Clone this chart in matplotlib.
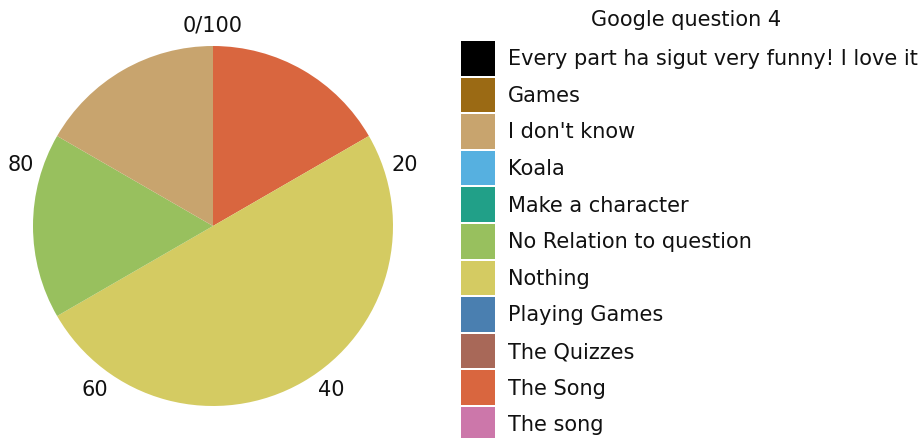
import matplotlib
matplotlib.use("Agg")
import matplotlib.pyplot as plt
from matplotlib.patches import Rectangle
import numpy as np

# Response categories (legend order) and their colours
categories = ["Every part ha sigut very funny! I love it", "Games", "I don't know",
              "Koala", "Make a character", "No Relation to question", "Nothing",
              "Playing Games", "The Quizzes", "The Song", "The song"]
colors = ["#000000", "#9b6a14", "#c8a46e", "#56b0e0", "#21a088", "#98c05e",
          "#d4cb62", "#4a7fb0", "#a86858", "#d9663f", "#cc77aa"]
# Counts of answers per category
counts = [0, 0, 1, 0, 0, 1, 3, 0, 0, 1, 0]

# Order in which slices appear clockwise from 12 o'clock
slice_order = ["The Song", "Nothing", "No Relation to question", "I don't know"]

# Percentage ticks around the rim
tick_values = [0, 20, 40, 60, 80]
tick_labels = ["0/100", "20", "40", "60", "80"]

W, H = 919, 439
DPI = 100
plt.rcParams["font.family"] = ["DejaVu Sans"]
fig = plt.figure(figsize=(W / DPI, H / DPI), dpi=DPI)

# Pie axes: centre (213, 227) px, radius 180 px
cx, cy, r = 213, 227, 180
ax = fig.add_axes([(cx - r) / W, (H - cy - r) / H, 2 * r / W, 2 * r / H])
vals = [counts[categories.index(c)] for c in slice_order]
cols = [colors[categories.index(c)] for c in slice_order]
ax.pie(vals, colors=cols, startangle=90, counterclock=False, radius=1.0,
       wedgeprops=dict(linewidth=0))
ax.set_xlim(-1, 1)
ax.set_ylim(-1, 1)
ax.set_aspect("equal")
ax.axis("off")

rl = 1.12
for v, lab in zip(tick_values, tick_labels):
    ang = np.deg2rad(90 - v / 100 * 360)
    ax.text(rl * np.cos(ang), rl * np.sin(ang), lab, ha="center", va="center",
            fontsize=15, color="#111111", clip_on=False)

# Legend drawn in figure pixel coordinates
lg = fig.add_axes([0, 0, 1, 1])
lg.set_xlim(0, W)
lg.set_ylim(H, 0)
lg.axis("off")
lg.text(686, 20, "Google question 4", ha="center", va="center",
        fontsize=15, color="#111111")
top0, pitch, sh = 42, 36.6, 34.5
for i, (cat, col) in enumerate(zip(categories, colors)):
    y = top0 + i * pitch
    lg.add_patch(Rectangle((461, y), 34, sh, facecolor=col, edgecolor="none"))
    lg.text(508, y + sh / 2, cat, ha="left", va="center", fontsize=15,
            color="#111111")

fig.savefig("out.png", dpi=DPI)
